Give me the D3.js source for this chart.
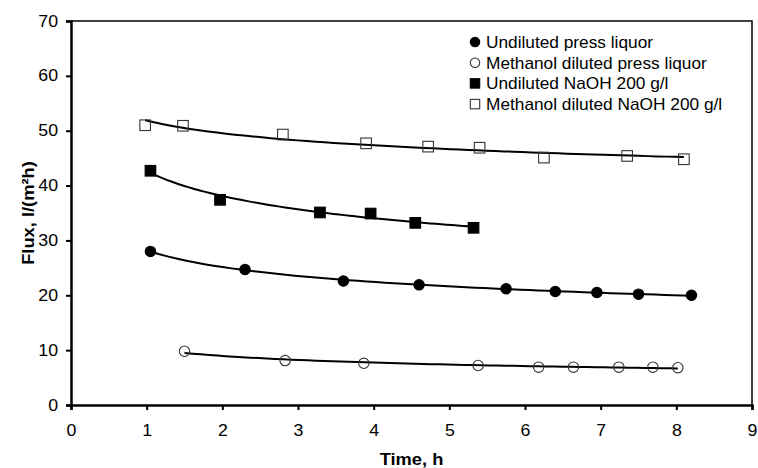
<!DOCTYPE html>
<html>
<head>
<meta charset="utf-8">
<script src="https://cdn.jsdelivr.net/npm/d3@7"></script>
<style>
  body { margin: 0; background: #fff; }
  text { font-family: "Liberation Sans", Arial, sans-serif; }
</style>
</head>
<body>
<div id="chart"></div>
<script>
let pressX = [1.05, 2.3, 3.6, 4.6, 5.75, 6.4, 6.95, 7.5, 8.2];
let pressY = [28.0, 24.7, 22.6, 21.9, 21.2, 20.7, 20.5, 20.2, 20.0];

let pressMeohX = [1.5, 2.83, 3.87, 5.38, 6.18, 6.64, 7.24, 7.69, 8.02];
let pressMeohY = [9.8, 8.1, 7.6, 7.2, 6.9, 6.9, 6.9, 6.9, 6.8];

let naohX = [1.05, 1.97, 3.29, 3.96, 4.55, 5.32];
let naohY = [42.7, 37.4, 35.1, 34.9, 33.2, 32.3];

let naohMeohX = [0.98, 1.48, 2.8, 3.9, 4.72, 5.4, 6.25, 7.35, 8.1];
let naohMeohY = [51.0, 50.9, 49.3, 47.7, 47.1, 46.9, 45.1, 45.4, 44.8];

let seriesNames = ["Undiluted press liquor", "Methanol diluted press liquor",
    "Undiluted NaOH 200 g/l", "Methanol diluted NaOH 200 g/l"];

let xTicks = [0, 1, 2, 3, 4, 5, 6, 7, 8, 9];
let yTicks = [0, 10, 20, 30, 40, 50, 60, 70];

let series = [
    { name: seriesNames[0], xs: pressX, ys: pressY, shape: "circle", filled: true },
    { name: seriesNames[1], xs: pressMeohX, ys: pressMeohY, shape: "circle", filled: false },
    { name: seriesNames[2], xs: naohX, ys: naohY, shape: "square", filled: true },
    { name: seriesNames[3], xs: naohMeohX, ys: naohMeohY, shape: "square", filled: false }
];

let W = 758, H = 468;
let SX = 1.11;   // the original text is a bit wider than Liberation Sans

let svg = d3.select("#chart").append("svg")
    .attr("width", W)
    .attr("height", H);

let x = d3.scaleLinear().domain([0, 9]).range([71, 752]);
let y = d3.scaleLinear().domain([0, 70]).range([405, 21]);

// frame (top + right thin)
svg.append("path")
    .attr("d", "M" + x(0) + "," + y(70) + "H" + x(9) + "V" + y(0))
    .attr("fill", "none")
    .attr("stroke", "#000")
    .attr("stroke-width", 1.5);

// x axis
let xAxis = svg.append("g")
    .attr("transform", "translate(0," + y(0) + ")")
    .call(d3.axisBottom(x).tickValues(xTicks).tickSize(5).tickPadding(15).tickFormat(d3.format("d")));
// y axis
let yAxis = svg.append("g")
    .attr("transform", "translate(" + x(0) + ",0)")
    .call(d3.axisLeft(y).tickValues(yTicks).tickSize(5).tickPadding(8).tickFormat(d3.format("d")));

[xAxis, yAxis].forEach(function (a) {
    a.select(".domain").attr("stroke-width", 2.5);
    a.selectAll(".tick line").attr("stroke-width", 2);
    a.selectAll(".tick text")
        .attr("font-size", "16px")
        .attr("fill", "#000")
        .style("font-family", "'Liberation Sans', Arial, sans-serif")
        .each(function () {
            let t = d3.select(this);
            t.attr("x", (+t.attr("x") || 0) / SX)
             .attr("transform", "scale(" + SX + ",1)");
        });
});

// axis titles
svg.append("text")
    .attr("transform", "translate(" + ((x(0) + x(9)) / 2) + ",465) scale(" + SX + ",1)")
    .attr("text-anchor", "middle")
    .attr("font-size", "16.5px")
    .attr("font-weight", "bold")
    .text("Time, h");

svg.append("text")
    .attr("transform", "translate(34," + ((y(0) + y(70)) / 2) + ") rotate(-90) scale(" + SX + ",1)")
    .attr("text-anchor", "middle")
    .attr("font-size", "16.5px")
    .attr("font-weight", "bold")
    .text("Flux, l/(m²h)");

// power trendline, like the spreadsheet one: y = a * x^b
function powerFit(xs, ys) {
    let lx = xs.map(Math.log), ly = ys.map(Math.log);
    let mx = d3.mean(lx), my = d3.mean(ly);
    let b = d3.sum(lx, function (v, i) { return (v - mx) * (ly[i] - my); }) /
            d3.sum(lx, function (v) { return (v - mx) * (v - mx); });
    let a = Math.exp(my - b * mx);
    return function (t) { return a * Math.pow(t, b); };
}

let line = d3.line()
    .x(function (d) { return x(d[0]); })
    .y(function (d) { return y(d[1]); });

series.forEach(function (s) {
    let f = powerFit(s.xs, s.ys);
    let x0 = d3.min(s.xs), x1 = d3.max(s.xs);
    let pts = d3.range(0, 61).map(function (i) {
        let t = x0 + (x1 - x0) * i / 60;
        return [t, f(t)];
    });
    svg.append("path")
        .attr("d", line(pts))
        .attr("fill", "none")
        .attr("stroke", "#000")
        .attr("stroke-width", 2);
});

function drawMarker(g, s, cx, cy) {
    let fill = s.filled ? "#000" : "none";
    let stroke = s.filled ? "#000" : "#333";
    if (s.shape === "circle") {
        g.append("circle")
            .attr("cx", cx).attr("cy", cy).attr("r", s.r || 5.2)
            .attr("fill", fill).attr("stroke", stroke).attr("stroke-width", 1.1);
    } else {
        let h = s.half || 5.3;
        g.append("rect")
            .attr("x", cx - h).attr("y", cy - h)
            .attr("width", 2 * h).attr("height", 2 * h)
            .attr("fill", fill).attr("stroke", stroke).attr("stroke-width", 1.1);
    }
}

series.forEach(function (s) {
    let g = svg.append("g");
    s.xs.forEach(function (xv, i) {
        drawMarker(g, s, x(xv), y(s.ys[i]));
    });
});

// legend
let legend = svg.append("g").attr("transform", "translate(475,42)");
series.forEach(function (s, i) {
    let row = legend.append("g").attr("transform", "translate(0," + (i * 20.7) + ")");
    drawMarker(row, { shape: s.shape, filled: s.filled, r: 4.7, half: 4.7 }, 0, 0);
    row.append("text")
        .attr("transform", "translate(11,5.8) scale(1.08,1)")
        .attr("font-size", "16px")
        .text(s.name);
});
</script>
</body>
</html>
